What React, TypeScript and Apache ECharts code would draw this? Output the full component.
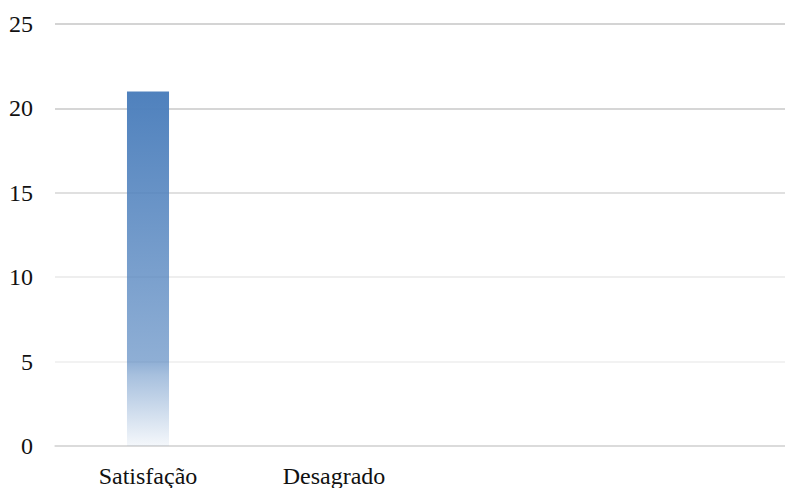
import React, { useEffect, useRef } from "react";
import * as echarts from "echarts";

// Categories along the x axis (the last two slots carry no label)
const categories: string[] = ["Satisfação", "Desagrado", "", ""];
// Count per category
const counts: (number | null)[] = [21, 0, null, null];
// Value axis ticks
const yMin = 0;
const yMax = 25;
const yStep = 5;

const BLUE = "79,129,189";

export default function App() {
  const ref = useRef<HTMLDivElement>(null);

  useEffect(() => {
    if (!ref.current) return;
    const chart = echarts.init(ref.current, null, { renderer: "svg" });
    const font = "'Liberation Serif', 'Times New Roman', serif";
    chart.setOption({
      animation: false,
      backgroundColor: "#ffffff",
      grid: { left: 55, right: 0, top: 24, bottom: 40, containLabel: false },
      xAxis: {
        type: "category",
        data: categories,
        axisTick: { show: false },
        axisLine: { lineStyle: { color: "#d9d9d9", width: 1.5 } },
        axisLabel: {
          color: "#111111",
          fontFamily: font,
          fontSize: 24,
          margin: 18,
          interval: 0,
        },
      },
      yAxis: {
        type: "value",
        min: yMin,
        max: yMax,
        interval: yStep,
        axisLine: { show: false },
        axisTick: { show: false },
        axisLabel: {
          color: "#111111",
          fontFamily: font,
          fontSize: 24,
          margin: 22,
        },
        splitLine: {
          lineStyle: {
            width: 1.5,
            color: ["#d9d9d9", "#eeeeee", "#e8e8e8", "#d6d6d6", "#c9c9c9", "#c6c6c6"],
          },
        },
      },
      series: [
        {
          type: "bar",
          data: counts,
          barWidth: "22.6%",
          itemStyle: {
            color: new echarts.graphic.LinearGradient(0, 0, 0, 1, [
              { offset: 0, color: `rgba(${BLUE},1)` },
              { offset: 0.76, color: `rgba(${BLUE},0.64)` },
              { offset: 0.8, color: `rgba(${BLUE},0.5)` },
              { offset: 1, color: `rgba(${BLUE},0.06)` },
            ]),
          },
        },
      ],
    });
    return () => chart.dispose();
  }, []);

  return (
    <div
      style={{
        position: "absolute",
        left: 0,
        top: 0,
        width: 785,
        height: 488,
        overflow: "hidden",
      }}
    >
      <div ref={ref} style={{ width: 799, height: 488 }} />
    </div>
  );
}
